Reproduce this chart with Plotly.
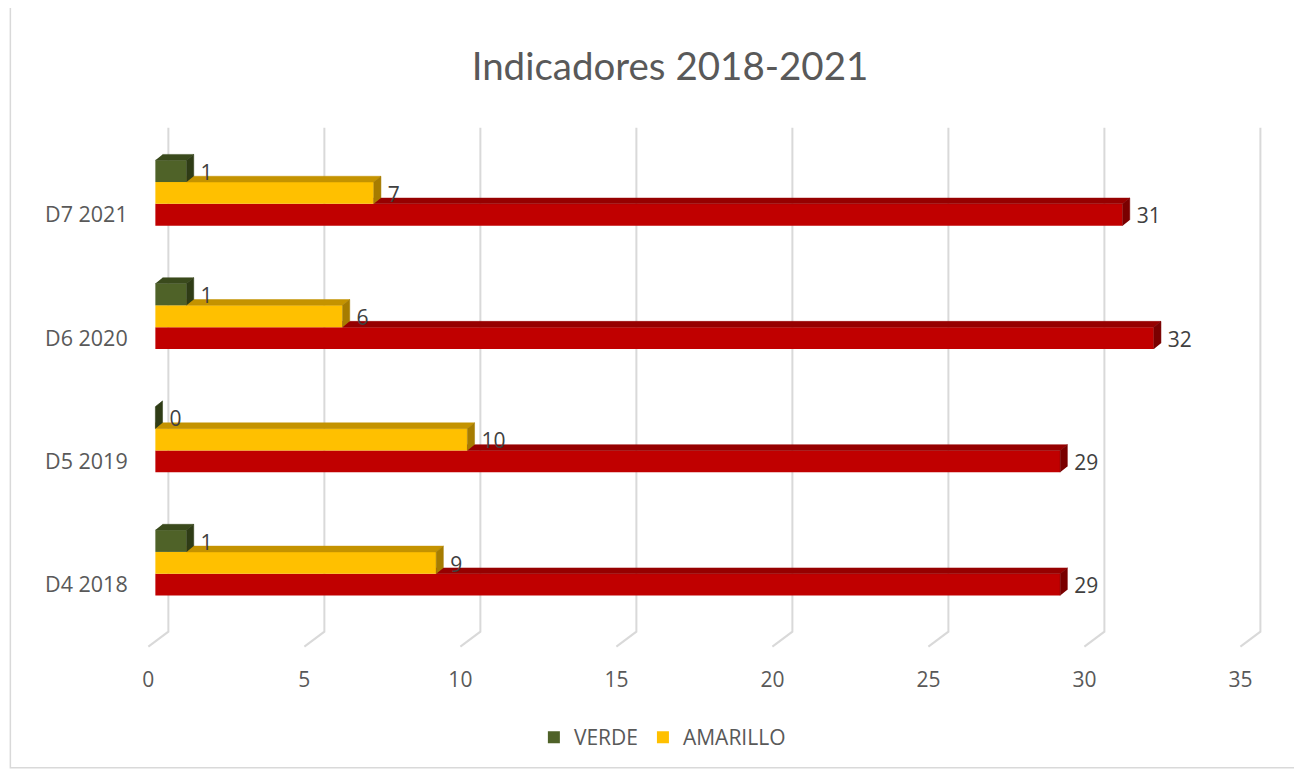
import plotly.graph_objects as go

# ---------------- data ----------------
categories = ["D4 2018", "D5 2019", "D6 2020", "D7 2021"]
verde = [1, 0, 1, 1]
amarillo = [9, 10, 6, 7]
rojo = [29, 29, 32, 31]
x_ticks = [0, 5, 10, 15, 20, 25, 30, 35]
title_text = "Indicadores 2018-2021"

# ---------------- geometry / style ----------------
OFF = 8              # page body margin
W, H = 1302 - OFF, 771 - OFF
PX_X = 31.2          # pixels per value unit
PX_Y = 123.3         # pixels per category step
X0 = 155 - OFF       # pixel of value 0 (figure coords)
Y_CAT0 = 585 - OFF   # pixel of first category
xr = [-0.3, 35.5]
yr = [-0.53, 3.72]
L = X0 + xr[0] * PX_X
R = W - (X0 + xr[1] * PX_X)
T = Y_CAT0 - yr[1] * PX_Y
B = H - (Y_CAT0 - yr[0] * PX_Y)
PW, PH = W - L - R, H - T - B

BW = 0.177           # bar thickness (category units)
DX = 0.23            # depth offset along value axis
DY = 0.047           # depth offset along category axis

TXT = "#595959"
FONT = "Open Sans, Noto Sans, sans-serif"

idx = list(range(len(categories)))

series = [
    # name, values, offset, front, top, side, legend
    ("ROJO", rojo, -BW / 2, "#C00000", "#960000", "#7A0000", False),
    ("AMARILLO", amarillo, BW / 2, "#FFC000", "#C49300", "#A67C00", True),
    ("VERDE", verde, BW * 1.5, "#4F6228", "#3A4A1C", "#2F3C16", True),
]

fig = go.Figure()

# front faces (bars)
for name, vals, off, front, top, side, leg in series:
    fig.add_trace(go.Bar(
        y=idx, x=vals, orientation="h", name=name,
        width=BW, offset=off, marker=dict(color=front, line=dict(width=0)),
        showlegend=leg, hoverinfo="x+name",
    ))

# depth faces (top + side) drawn in series order so later series cover earlier ones
for si, (name, vals, off, front, top, side, leg) in enumerate(series):
    nxt = series[si + 1][1] if si + 1 < len(series) else None
    tx, ty, sx, sy = [], [], [], []
    for i, v in zip(idx, vals):
        yb = i + off
        yt = yb + BW
        start = 0 if nxt is None else min(nxt[i], v)
        if nxt is None or nxt[i] < v:
            tx += [start, v, v + DX, start + (DX if nxt is None else 0), None]
            ty += [yt, yt, yt + DY, yt + DY, None]
        sx += [v, v, v + DX, v + DX, None]
        sy += [yb, yt, yt + DY, yb + DY, None]
    fig.add_trace(go.Scatter(x=tx, y=ty, mode="lines", fill="toself",
                             fillcolor=top, line=dict(width=0.5, color=top),
                             showlegend=False, hoverinfo="skip"))
    fig.add_trace(go.Scatter(x=sx, y=sy, mode="lines", fill="toself",
                             fillcolor=side, line=dict(width=0.5, color=side),
                             showlegend=False, hoverinfo="skip"))

# data labels
for name, vals, off, front, top, side, leg in series:
    fig.add_trace(go.Scatter(
        x=[v + DX + 0.22 for v in vals],
        y=[i + off + BW / 2 - 0.028 for i in idx],
        mode="text", text=[str(v) for v in vals], textposition="middle right",
        textfont=dict(family=FONT, size=21, color="#404040"),
        showlegend=False, hoverinfo="skip",
    ))

# perspective gridlines (back wall + floor)
shapes = []
for t in x_ticks:
    shapes.append(dict(
        type="path", xref="x", yref="y", layer="below",
        path=f"M {t + 0.417},3.706 L {t + 0.417},-0.381 L {t - 0.224},-0.503",
        line=dict(color="#D9D9D9", width=2),
    ))
# chart border
shapes.append(dict(
    type="rect", xref="paper", yref="paper", layer="below",
    x0=(10 - OFF - L) / PW, x1=(1296 - OFF - L) / PW,
    y0=(H - B - (768 - OFF)) / PH, y1=(H - B - (5 - OFF + 1)) / PH,
    line=dict(color="#D9D9D9", width=1.5),
))

fig.update_layout(
    width=W, height=H,
    margin=dict(l=L, r=R, t=T, b=B),
    paper_bgcolor="white", plot_bgcolor="white",
    barmode="overlay",
    shapes=shapes,
    title=dict(text=title_text, x=(670 - OFF) / W, y=1 - (67 - OFF) / H,
               xref="container", yref="container", xanchor="center", yanchor="middle",
               font=dict(family="Century Gothic, Lato, sans-serif", size=38.5, color=TXT)),
    xaxis=dict(range=xr, tickvals=x_ticks, showgrid=False, zeroline=False, showline=False,
               ticks="outside", ticklen=11, tickcolor="rgba(0,0,0,0)", ticklabelshift=-7,
               tickfont=dict(family=FONT, size=21, color=TXT), fixedrange=True),
    yaxis=dict(range=yr, tickvals=idx, ticktext=categories, showgrid=False, zeroline=False,
               showline=False, ticks="outside", ticklen=13, tickcolor="rgba(0,0,0,0)",
               tickfont=dict(family=FONT, size=21.5, color=TXT), fixedrange=True),
    legend=dict(orientation="h", x=(662 - OFF - L) / PW, xanchor="center",
                y=(H - B - (738 - OFF)) / PH,
                yanchor="middle", traceorder="reversed",
                font=dict(family=FONT, size=21, color=TXT), itemwidth=30),
    showlegend=True,
)

fig.write_html("out.html")
